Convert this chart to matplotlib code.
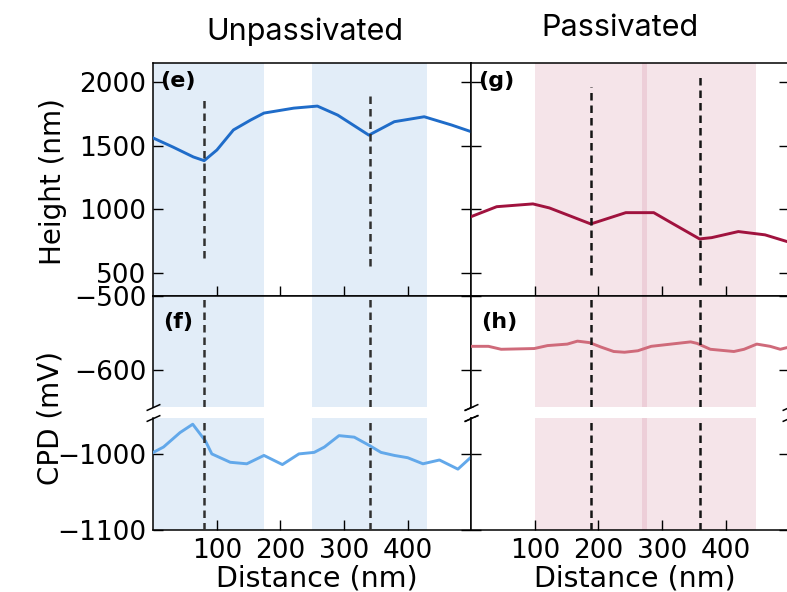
import matplotlib
matplotlib.use('Agg')
import matplotlib.pyplot as plt

# --- data ---
dist_unpass_h = [0, 31, 63, 80, 100, 126, 153, 174, 221, 258, 290, 339, 379, 426, 469, 500]
height_unpass = [1561, 1490, 1412, 1383, 1467, 1625, 1703, 1758, 1797, 1813, 1742, 1584, 1690, 1729, 1664, 1611]

dist_pass_h = [0, 40, 97, 123, 188, 243, 287, 315, 359, 378, 420, 462, 500]
height_pass = [942, 1020, 1042, 1010, 884, 973, 973, 892, 766, 776, 824, 798, 740]

dist_unpass_c = [0, 16, 42, 62, 82, 92, 121, 147, 174, 203, 229, 253, 269, 292, 316,
                 340, 358, 379, 400, 424, 450, 479, 500]
cpd_unpass = [-998, -991, -972, -961, -983, -1000, -1011, -1013, -1002, -1014, -1000, -998,
              -991, -976, -978, -989, -998, -1002, -1005, -1013, -1008, -1020, -1004]

dist_pass_c = [0, 27, 47, 99, 120, 151, 167, 186, 204, 224, 241, 262, 283, 314, 345,
               355, 376, 413, 429, 449, 470, 486, 500]
cpd_pass = [-568, -568, -572, -571, -567, -565, -561, -563, -569, -575, -576, -574, -568,
            -565, -562, -564, -572, -575, -572, -565, -568, -572, -569]

spans_unpass = [(0, 174), (250, 431)]
spans_pass = [(100, 277), (269, 447)]

# dashed markers: x position, and extent in the height panel
marks_unpass = [80, 340]
marks_unpass_h = [(617, 1866), (554, 1926)]
marks_pass = [188, 359]
marks_pass_h = [(482, 1965), (403, 2071)]

xticks = [100, 200, 300, 400]
height_ticks = [500, 1000, 1500, 2000]
cpd_top_ticks = [-600, -500]
cpd_bot_ticks = [-1100, -1000]

plt.rcParams['font.family'] = 'DejaVu Sans'
plt.rcParams['font.size'] = 19
plt.rcParams['axes.linewidth'] = 1.1

fig = plt.figure(figsize=(7.87, 5.92), dpi=100)

W = 0.404
x_left = 0.1948
cols = [x_left, x_left + W]
h_box = (0.5, 0.393)
ct_box = (0.3125, 0.1875)
cb_box = (0.1047, 0.189)

columns = [
    dict(xh=dist_unpass_h, h=height_unpass, xc=dist_unpass_c, c=cpd_unpass,
         hcol='#1f6cc9', ccol='#62a8ea', span='#8fb8e6', span_a=0.25,
         spans=spans_unpass, marks=marks_unpass, marks_h=marks_unpass_h,
         dcol='#303030', labels=('(e)', '(f)'), title='Unpassivated'),
    dict(xh=dist_pass_h, h=height_pass, xc=dist_pass_c, c=cpd_pass,
         hcol='#a0123e', ccol='#cf6a7a', span='#d4849c', span_a=0.22,
         spans=spans_pass, marks=marks_pass, marks_h=marks_pass_h,
         dcol='#151515', labels=('(g)', '(h)'), title='Passivated'),
]

tick_kw = dict(direction='in', length=7.5, width=1.0, labelsize=19, pad=5)
dash = (0, (3, 2))

for i, (x0, col) in enumerate(zip(cols, columns)):
    ax_h = fig.add_axes([x0, h_box[0], W, h_box[1]])
    ax_t = fig.add_axes([x0, ct_box[0], W, ct_box[1]])
    ax_b = fig.add_axes([x0, cb_box[0], W, cb_box[1]])

    for ax in (ax_h, ax_t, ax_b):
        ax.set_xlim(0, 500)
        for a, b in col['spans']:
            ax.axvspan(a, b, color=col['span'], alpha=col['span_a'], lw=0, zorder=0)
        ax.tick_params(axis='both', which='both', left=True, right=True, **tick_kw)
        ax.set_xticks(xticks)
        if i == 1:
            ax.tick_params(axis='y', labelleft=False)

    # height panel
    ax_h.plot(col['xh'], col['h'], color=col['hcol'], lw=2.1, zorder=3)
    for xm, (y0, y1) in zip(col['marks'], col['marks_h']):
        ax_h.vlines(xm, y0, y1, colors=col['dcol'], linestyles=dash, lw=1.8, zorder=4)
    ax_h.set_ylim(316, 2150)
    ax_h.set_yticks(height_ticks)
    ax_h.tick_params(axis='x', bottom=True, top=False, labelbottom=False)

    # CPD broken axis
    for ax in (ax_t, ax_b):
        ax.plot(col['xc'], col['c'], color=col['ccol'], lw=2.1, zorder=3)
        for xm in col['marks']:
            ax.axvline(xm, color=col['dcol'], linestyle=dash, lw=1.8, zorder=4)
    ax_t.set_ylim(-650, -500)
    ax_t.set_yticks(cpd_top_ticks)
    ax_t.spines['bottom'].set_visible(False)
    ax_t.tick_params(axis='x', bottom=False, top=False, labelbottom=False)
    ax_b.set_ylim(-1100, -953)
    ax_b.set_yticks(cpd_bot_ticks)
    ax_b.spines['top'].set_visible(False)
    ax_b.tick_params(axis='x', bottom=True, top=False, labelbottom=True, pad=6)

    # break marks
    bk = dict(marker=[(-1, -0.45), (1, 0.45)], markersize=10, linestyle='none',
              color='k', mec='k', mew=1.1, clip_on=False)
    ax_t.plot([0, 1], [0, 0], transform=ax_t.transAxes, **bk)
    ax_b.plot([0, 1], [1, 1], transform=ax_b.transAxes, **bk)

    # panel labels
    ax_h.text(0.022, 0.965, col['labels'][0], transform=ax_h.transAxes,
              fontsize=16, fontweight='bold', va='top', ha='left')
    ax_t.text(0.03, 0.86, col['labels'][1], transform=ax_t.transAxes,
              fontsize=16, fontweight='bold', va='top', ha='left')

    xc = x0 + W / 2
    fig.text(xc + 0.006, 1 - 578 / 592, 'Distance (nm)', ha='center', va='center', fontsize=20.5)

fig.text(305 / 787, 1 - 32 / 592, 'Unpassivated', ha='center', va='center',
         fontsize=22, family=['Inter', 'DejaVu Sans'])
fig.text(620 / 787, 1 - 28 / 592, 'Passivated', ha='center', va='center',
         fontsize=22, family=['Inter', 'DejaVu Sans'])

fig.text(53 / 787, 1 - 182 / 592, 'Height (nm)', rotation=90, ha='center', va='center', fontsize=20)
fig.text(50 / 787, 1 - 418 / 592, 'CPD (mV)', rotation=90, ha='center', va='center', fontsize=20)

fig.savefig('out.png', dpi=100)
